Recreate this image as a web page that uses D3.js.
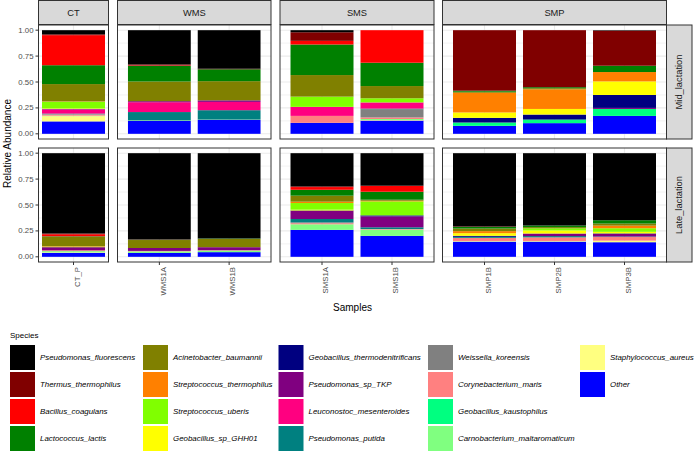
<!DOCTYPE html>
<html>
<head>
<meta charset="utf-8">
<script src="https://cdn.jsdelivr.net/npm/d3@7"></script>
<style>
  html, body { margin: 0; padding: 0; background: #fff; }
  svg { display: block; font-family: "Liberation Sans", Arial, Helvetica, sans-serif; }
</style>
</head>
<body>
<svg id="chart" width="696" height="451"></svg>
<script>
// ---------------- DATA ----------------
// Species in legend order (top of stack first)
const species = [
  "Pseudomonas_fluorescens", "Thermus_thermophilus", "Bacillus_coagulans", "Lactococcus_lactis",
  "Acinetobacter_baumannii", "Streptococcus_thermophilus", "Streptococcus_uberis", "Geobacillus_sp_GHH01",
  "Geobacillus_thermodenitrificans", "Pseudomonas_sp_TKP", "Leuconostoc_mesenteroides", "Pseudomonas_putida",
  "Weissella_koreensis", "Corynebacterium_maris", "Geobacillus_kaustophilus", "Carnobacterium_maltaromaticum",
  "Staphylococcus_aureus", "Other"
];
const speciesColors = [
  "#000000", "#800000", "#FF0000", "#008000",
  "#808000", "#FF8000", "#80FF00", "#FFFF00",
  "#000080", "#800080", "#FF0080", "#008080",
  "#808080", "#FF8080", "#00FF80", "#80FF80",
  "#FFFF80", "#0000FF"
];
const groups = ["CT", "WMS", "SMS", "SMP"];
const samples = ["CT_P", "WMS1A", "WMS1B", "SMS1A", "SMS1B", "SMP1B", "SMP2B", "SMP3B"];
const sampleGroup = ["CT", "WMS", "WMS", "SMS", "SMS", "SMP", "SMP", "SMP"];
const phases = ["Mid_lactation", "Late_lactation"];
const yTicks = [0, 0.25, 0.5, 0.75, 1];
const yTickLabels = ["0.00", "0.25", "0.50", "0.75", "1.00"];

// Relative abundance per sample (rows follow `samples`, columns follow `species`)
const midLactation = [
  [0.040, 0.008, 0.290, 0.182, 0.167, 0.003, 0.065, 0.005, 0.000, 0.005, 0.040, 0.005, 0.005, 0.010, 0.000, 0.005, 0.050, 0.120],
  [0.330, 0.010, 0.005, 0.150, 0.190, 0.000, 0.000, 0.000, 0.000, 0.010, 0.095, 0.080, 0.000, 0.000, 0.000, 0.005, 0.000, 0.125],
  [0.372, 0.005, 0.000, 0.115, 0.185, 0.000, 0.000, 0.000, 0.000, 0.015, 0.080, 0.090, 0.000, 0.000, 0.000, 0.003, 0.000, 0.135],
  [0.020, 0.083, 0.035, 0.295, 0.208, 0.000, 0.099, 0.000, 0.000, 0.000, 0.087, 0.000, 0.000, 0.067, 0.000, 0.000, 0.000, 0.106],
  [0.000, 0.000, 0.314, 0.225, 0.118, 0.000, 0.040, 0.000, 0.000, 0.000, 0.060, 0.005, 0.080, 0.015, 0.000, 0.010, 0.005, 0.128],
  [0.000, 0.584, 0.000, 0.010, 0.010, 0.190, 0.000, 0.052, 0.045, 0.000, 0.000, 0.000, 0.000, 0.000, 0.032, 0.000, 0.000, 0.077],
  [0.000, 0.550, 0.000, 0.010, 0.010, 0.190, 0.000, 0.054, 0.046, 0.000, 0.000, 0.007, 0.000, 0.000, 0.030, 0.000, 0.000, 0.103],
  [0.005, 0.338, 0.000, 0.061, 0.000, 0.090, 0.000, 0.131, 0.125, 0.010, 0.000, 0.000, 0.000, 0.000, 0.067, 0.000, 0.000, 0.173]
];
const lateLactation = [
  [0.775, 0.007, 0.020, 0.005, 0.090, 0.005, 0.005, 0.000, 0.000, 0.030, 0.000, 0.000, 0.000, 0.008, 0.000, 0.012, 0.005, 0.038],
  [0.832, 0.003, 0.000, 0.003, 0.077, 0.000, 0.000, 0.000, 0.000, 0.028, 0.000, 0.000, 0.000, 0.004, 0.000, 0.015, 0.000, 0.038],
  [0.823, 0.000, 0.000, 0.004, 0.080, 0.000, 0.000, 0.000, 0.000, 0.029, 0.000, 0.000, 0.000, 0.004, 0.000, 0.015, 0.000, 0.045],
  [0.320, 0.007, 0.026, 0.057, 0.058, 0.013, 0.064, 0.008, 0.005, 0.077, 0.000, 0.032, 0.009, 0.010, 0.000, 0.054, 0.000, 0.260],
  [0.314, 0.000, 0.058, 0.077, 0.010, 0.006, 0.135, 0.000, 0.009, 0.106, 0.000, 0.017, 0.000, 0.005, 0.000, 0.061, 0.000, 0.202],
  [0.707, 0.005, 0.000, 0.015, 0.025, 0.020, 0.000, 0.025, 0.010, 0.000, 0.000, 0.010, 0.000, 0.030, 0.000, 0.000, 0.006, 0.147],
  [0.698, 0.000, 0.000, 0.015, 0.012, 0.000, 0.020, 0.030, 0.000, 0.025, 0.000, 0.012, 0.000, 0.035, 0.000, 0.000, 0.006, 0.147],
  [0.647, 0.000, 0.000, 0.032, 0.020, 0.025, 0.035, 0.015, 0.005, 0.025, 0.000, 0.005, 0.000, 0.035, 0.000, 0.000, 0.015, 0.141]
];
const phaseValues = [midLactation, lateLactation];

// ---------------- LAYOUT ----------------
const svg = d3.select("#chart");
const panelCols = { CT: [38.5, 108.5], WMS: [117.5, 271], SMS: [280, 434], SMP: [442.5, 666.5] };
const panelRows = [[25, 139], [148, 262]];
const stripTop = [0.5, 24.5];
const rightStrip = [666.5, 692];
const legendColX = [10, 143, 278.5, 428, 580];
const borderCol = "#333333";
const gridCol = "#ebebeb";
const axisTextCol = "#4d4d4d";
const color = d3.scaleOrdinal().domain(species).range(speciesColors);

// stack: bottom = last species ("Other")
const stackKeys = species.slice().reverse();

// x scales per group
const xScales = {};
groups.forEach(g => {
  const s = samples.filter((d, i) => sampleGroup[i] === g);
  xScales[g] = d3.scaleBand().domain(s).range(panelCols[g])
    .paddingInner(0.1).paddingOuter(s.length === 1 ? 0.05 : 0.15);
});

// top strips
groups.forEach(g => {
  const [x0, x1] = panelCols[g];
  svg.append("rect").attr("x", x0).attr("y", stripTop[0]).attr("width", x1 - x0).attr("height", stripTop[1] - stripTop[0])
    .attr("fill", "#d9d9d9").attr("stroke", borderCol).attr("stroke-width", 1);
  svg.append("text").attr("x", (x0 + x1) / 2).attr("y", (stripTop[0] + stripTop[1]) / 2)
    .attr("text-anchor", "middle").attr("dominant-baseline", "central")
    .attr("font-size", 9.3).attr("fill", "#1a1a1a").text(g);
});

phases.forEach((ph, pi) => {
  const [y0, y1] = panelRows[pi];
  const y = d3.scaleLinear().domain([-0.05, 1.05]).range([y1, y0]);
  const values = phaseValues[pi];

  groups.forEach(g => {
    const [x0, x1] = panelCols[g];
    const xs = xScales[g];
    const gp = svg.append("g");
    gp.append("rect").attr("x", x0).attr("y", y0).attr("width", x1 - x0).attr("height", y1 - y0).attr("fill", "#fff");
    // minor grid
    [0.125, 0.375, 0.625, 0.875].forEach(v => {
      gp.append("line").attr("x1", x0).attr("x2", x1).attr("y1", y(v)).attr("y2", y(v))
        .attr("stroke", gridCol).attr("stroke-width", 0.6);
    });
    // major grid
    yTicks.forEach(v => {
      gp.append("line").attr("x1", x0).attr("x2", x1).attr("y1", y(v)).attr("y2", y(v))
        .attr("stroke", gridCol).attr("stroke-width", 1.1);
    });
    xs.domain().forEach(s => {
      const cx = xs(s) + xs.bandwidth() / 2;
      gp.append("line").attr("x1", cx).attr("x2", cx).attr("y1", y0).attr("y2", y1)
        .attr("stroke", gridCol).attr("stroke-width", 1.1);
    });

    // stacked bars
    const rows = xs.domain().map(s => {
      const idx = samples.indexOf(s);
      const o = { sample: s };
      species.forEach((sp, k) => o[sp] = values[idx][k]);
      return o;
    });
    const stacked = d3.stack().keys(stackKeys)(rows);
    stacked.forEach(layer => {
      gp.selectAll(null).data(layer).enter().append("rect")
        .attr("x", d => xs(d.data.sample))
        .attr("width", xs.bandwidth())
        .attr("y", d => y(d[1]))
        .attr("height", d => Math.max(0, y(d[0]) - y(d[1])))
        .attr("fill", color(layer.key));
    });

    gp.append("rect").attr("x", x0).attr("y", y0).attr("width", x1 - x0).attr("height", y1 - y0)
      .attr("fill", "none").attr("stroke", borderCol).attr("stroke-width", 1);

    // x axis on bottom row
    if (pi === phases.length - 1) {
      xs.domain().forEach(s => {
        const cx = xs(s) + xs.bandwidth() / 2;
        svg.append("line").attr("x1", cx).attr("x2", cx).attr("y1", y1).attr("y2", y1 + 3)
          .attr("stroke", borderCol).attr("stroke-width", 1);
        svg.append("text").attr("transform", `translate(${cx},${y1 + 5}) rotate(-90)`)
          .attr("text-anchor", "end").attr("dy", "0.8em")
          .attr("font-size", 7.8).attr("fill", axisTextCol).text(s);
      });
    }
  });

  // y axis on left
  const lx = panelCols.CT[0];
  yTicks.forEach((v, i) => {
    svg.append("line").attr("x1", lx - 3).attr("x2", lx).attr("y1", y(v)).attr("y2", y(v))
      .attr("stroke", borderCol).attr("stroke-width", 1);
    svg.append("text").attr("x", lx - 5).attr("y", y(v)).attr("text-anchor", "end")
      .attr("dominant-baseline", "central").attr("font-size", 7.8).attr("fill", axisTextCol)
      .text(yTickLabels[i]);
  });

  // right strip
  svg.append("rect").attr("x", rightStrip[0]).attr("y", y0).attr("width", rightStrip[1] - rightStrip[0]).attr("height", y1 - y0)
    .attr("fill", "#d9d9d9").attr("stroke", borderCol).attr("stroke-width", 1);
  svg.append("text").attr("transform", `translate(${(rightStrip[0] + rightStrip[1]) / 2},${(y0 + y1) / 2}) rotate(-90)`)
    .attr("text-anchor", "middle").attr("dominant-baseline", "central")
    .attr("font-size", 9.3).attr("fill", "#1a1a1a").text(ph);
});

// axis titles
svg.append("text").attr("transform", `translate(7,${(panelRows[0][0] + panelRows[1][1]) / 2}) rotate(-90)`)
  .attr("text-anchor", "middle").attr("dominant-baseline", "central")
  .attr("font-size", 10).attr("fill", "#000").text("Relative Abundance");
svg.append("text").attr("x", (panelCols.CT[0] + panelCols.SMP[1]) / 2).attr("y", 307)
  .attr("text-anchor", "middle").attr("dominant-baseline", "central")
  .attr("font-size", 10).attr("fill", "#000").text("Samples");

// legend
const lg = svg.append("g");
lg.append("text").attr("x", 10).attr("y", 335).attr("dominant-baseline", "central")
  .attr("font-size", 8).attr("fill", "#000").text("Species");
const nRows = 4, keySize = 25, rowStep = 27, legTop = 345;
species.forEach((sp, k) => {
  const c = Math.floor(k / nRows), r = k % nRows;
  const xk = legendColX[c], yk = legTop + r * rowStep;
  lg.append("rect").attr("x", xk).attr("y", yk).attr("width", keySize).attr("height", keySize)
    .attr("fill", color(sp));
  lg.append("text").attr("x", xk + keySize + 5).attr("y", yk + keySize / 2)
    .attr("dominant-baseline", "central").attr("font-size", 7.9).attr("font-style", "italic")
    .attr("fill", "#000").text(sp);
});
</script>
</body>
</html>
